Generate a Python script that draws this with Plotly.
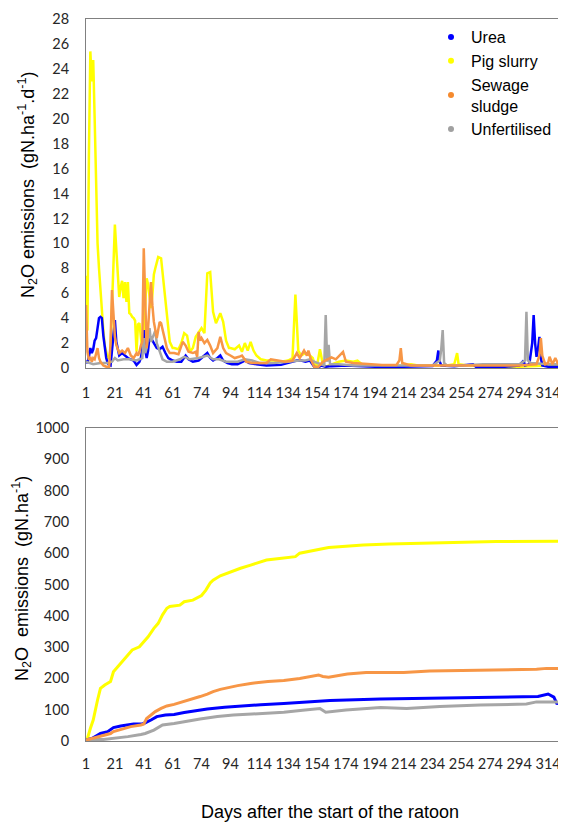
import plotly.graph_objects as go

# ---------------- data ----------------
SERIES_NAMES = ["Urea", "Pig slurry", "Sewage<br>sludge", "Unfertilised"]
SERIES_COLORS = ["#0000FF", "#FFFF00", "#F79646", "#A6A6A6"]
LEGEND_COLORS = ["#0000FF", "#FFFF00", "#F58A2E", "#A0A0A0"]

# x axis: sampling index (category position) and the day labels shown every 20 samples
TICK_IDX = [0, 20, 40, 60, 80, 100, 120, 140, 160, 180, 200, 220, 240, 260, 280, 300, 320]
TICK_LABELS = ["1", "21", "41", "61", "74", "94", "114", "134", "154", "174",
               "194", "214", "234", "254", "274", "294", "314"]

# ---- daily N2O emissions (gN.ha-1.d-1): sample index / value ----
urea_daily_x = [0, 1, 2, 3, 4, 5, 6, 7, 8, 9, 10, 11, 12, 13, 14, 15, 16, 17, 18, 19, 20, 21, 22, 23, 25, 27,
                29, 31, 33, 35, 37, 38, 39, 40, 41, 42, 43, 44, 45, 47, 49, 51, 53, 55, 57, 60, 63, 66, 69,
                71, 74, 78, 81, 84, 86, 88, 91, 93, 95, 98, 101, 105, 110, 113, 118, 125, 135, 143, 146,
                149, 152, 155, 158, 160, 163, 166, 170, 180, 190, 200, 220, 240, 243, 244, 245, 246, 255,
                268, 270, 290, 300, 303, 304, 307, 309, 310, 311, 312, 313, 314, 315, 316, 320, 332]
urea_daily_y = [0.6, 0.4, 0.9, 1.6, 1.2, 1.5, 2.2, 2.4, 3.2, 4.0, 4.1, 4.0, 2.6, 1.5, 0.8, 0.4, 0.25, 0.2,
                1.5, 3.0, 3.85, 2.1, 1.4, 1.0, 1.2, 1.0, 0.8, 0.7, 0.6, 0.25, 0.5, 0.8, 1.5, 3.05, 1.5, 0.8,
                1.4, 2.6, 2.4, 2.1, 1.6, 1.5, 1.7, 1.2, 0.8, 0.6, 0.5, 0.5, 1.0, 0.7, 0.5, 0.6, 0.9, 1.2,
                0.8, 0.6, 0.8, 1.0, 0.6, 0.4, 0.3, 0.3, 0.6, 0.4, 0.3, 0.2, 0.25, 0.5, 0.6, 0.6, 0.5, 0.6,
                0.1, 0.0, 0.2, 0.1, 0.15, 0.2, 0.15, 0.1, 0.1, 0.15, 0.6, 1.4, 0.5, 0.2, 0.15, 0.3, 0.1,
                0.1, 0.2, 0.6, 0.2, 0.3, 2.0, 4.25, 2.0, 0.9, 1.5, 2.5, 0.8, 0.2, 0.1, 0.1]

pig_daily_x = [0, 1, 2, 3, 4, 5, 6, 7, 8, 9, 10, 11, 12, 13, 14, 15, 16, 17, 18, 19, 20, 21, 22, 23, 24, 25,
               26, 27, 28, 29, 30, 31, 32, 33, 34, 35, 36, 37, 38, 39, 40, 41, 42, 43, 44, 45, 46, 47, 48,
               50, 52, 54, 56, 58, 60, 61, 64, 66, 68, 70, 72, 74, 76, 78, 80, 82, 84, 86, 88, 90, 93, 95,
               97, 99, 100, 103, 106, 108, 110, 112, 114, 116, 118, 121, 125, 130, 135, 140, 143, 145, 146,
               147, 149, 152, 155, 157, 159, 160, 162, 163, 164, 166, 170, 175, 180, 185, 188, 192, 200,
               210, 220, 225, 230, 240, 250, 255, 257, 258, 265, 280, 300, 320, 332]
pig_daily_y = [7.4, 3.0, 17.0, 25.4, 23.0, 24.7, 20.0, 14.0, 10.0, 8.0, 6.0, 4.5, 3.0, 1.8, 1.2, 0.8, 0.8,
               1.5, 5.0, 9.0, 11.5, 9.5, 7.0, 5.7, 6.5, 7.0, 5.6, 6.9, 5.3, 6.9, 4.4, 4.3, 4.1, 4.0, 3.8,
               1.3, 3.5, 3.6, 2.5, 1.3, 3.0, 5.5, 7.2, 6.7, 5.6, 4.8, 5.9, 7.5, 8.0, 8.9, 8.8, 6.4, 4.0,
               2.1, 1.6, 1.6, 1.5, 2.0, 2.8, 2.6, 1.3, 1.6, 2.5, 2.9, 3.2, 2.8, 7.6, 7.7, 4.5, 3.6, 4.4,
               3.7, 2.2, 1.6, 1.6, 1.5, 1.8, 1.3, 2.0, 1.4, 2.1, 1.4, 1.0, 0.7, 0.6, 0.6, 0.5, 0.6, 0.8,
               5.9, 3.0, 1.4, 1.0, 1.2, 1.0, 0.8, 0.1, 0.2, 1.5, 1.0, 0.3, 0.1, 0.3, 0.5, 0.6, 0.5, 0.6,
               0.2, 0.2, 0.15, 0.2, 0.3, 0.2, 0.2, 0.2, 0.3, 1.2, 0.3, 0.2, 0.15, 0.1, 0.2, 0.2]

sludge_daily_x = [0, 1, 2, 3, 4, 5, 6, 8, 9, 10, 12, 14, 16, 17, 18, 19, 20, 21, 23, 25, 27, 29, 31, 33,
                  35, 36, 37, 38, 39, 40, 41, 42, 43, 45, 46, 47, 49, 51, 52, 54, 56, 58, 61, 64, 67, 69,
                  71, 74, 76, 77, 78, 79, 80, 82, 84, 86, 88, 91, 93, 95, 97, 100, 103, 106, 108, 111,
                  115, 120, 125, 128, 132, 138, 143, 146, 148, 151, 153, 154, 156, 158, 161, 164, 170,
                  173, 178, 180, 185, 195, 205, 215, 217, 218, 219, 225, 240, 260, 280, 300, 312, 314,
                  315, 316, 318, 320, 321, 323, 325, 327, 328, 330, 332]
sludge_daily_y = [5.05, 1.3, 0.65, 0.9, 0.5, 0.8, 0.7, 1.6, 0.8, 0.5, 0.2, 0.1, 0.1, 2.0, 6.25, 4.25, 2.5,
                  1.85, 1.2, 1.4, 1.2, 1.6, 1.0, 0.8, 1.2, 1.0, 1.3, 1.8, 2.1, 9.6, 5.05, 1.6, 3.2, 6.9,
                  5.0, 3.7, 2.4, 3.7, 3.6, 2.65, 1.6, 1.2, 1.2, 1.1, 2.1, 1.8, 1.3, 1.2, 1.3, 0.9, 2.9,
                  2.2, 2.4, 2.0, 2.25, 1.8, 1.2, 1.6, 2.5, 1.6, 1.2, 1.0, 0.8, 0.9, 1.0, 0.5, 0.4, 0.4,
                  0.4, 0.7, 0.6, 0.5, 0.6, 1.2, 0.8, 1.4, 1.0, 1.4, 0.6, 0.1, 0.1, 0.5, 0.85, 0.7, 1.3,
                  0.5, 0.4, 0.3, 0.25, 0.25, 0.6, 1.6, 0.4, 0.2, 0.2, 0.15, 0.15, 0.2, 0.3, 1.0, 2.4, 1.0,
                  0.3, 0.4, 0.9, 0.3, 0.8, 0.3, 0.7, 0.2, 0.85]

unfert_daily_x = [0, 5, 10, 15, 18, 20, 22, 26, 30, 35, 39, 40, 41, 42, 43, 44, 45, 46, 48, 49, 51, 53,
                  56, 60, 65, 68, 72, 78, 84, 88, 92, 97, 100, 105, 110, 115, 120, 130, 140, 145, 148,
                  152, 155, 158, 162, 165, 166, 167, 168, 169, 175, 185, 200, 220, 240, 245, 246, 247,
                  248, 250, 260, 275, 290, 300, 304, 305, 306, 308, 320, 332]
unfert_daily_y = [0.5, 0.3, 0.4, 0.4, 0.5, 0.8, 0.6, 0.7, 0.7, 0.6, 0.8, 2.4, 1.2, 1.6, 2.5, 3.2, 2.1, 2.4,
                  3.0, 2.0, 1.3, 0.7, 0.5, 0.5, 0.7, 0.9, 0.7, 0.8, 1.0, 0.7, 0.7, 0.5, 0.5, 0.5, 0.7,
                  0.6, 0.4, 0.4, 0.5, 0.6, 0.6, 0.6, 0.7, 0.5, 0.3, 0.2, 4.25, 0.5, 1.85, 0.3, 0.3, 0.2,
                  0.2, 0.2, 0.2, 0.6, 1.5, 3.05, 0.4, 0.2, 0.2, 0.3, 0.3, 0.3, 0.6, 4.5, 0.6, 0.4, 0.3,
                  0.3]

# ---- cumulative N2O emissions (gN.ha-1): sample index / value ----
urea_cum_x = [0, 4, 7, 10, 15, 19, 24, 29, 33, 38, 40, 45, 49, 55, 61, 68, 75, 84, 96, 107, 121, 137,
              150, 169, 204, 241, 273, 308, 313, 320, 324, 326, 332]
urea_cum_y = [3, 8, 16, 24, 30, 43, 48, 51, 54, 54, 56, 67, 78, 83, 85, 91, 96, 102, 108, 112, 116, 120,
              124, 129, 134, 136, 140, 140, 142, 150, 140, 120, 118]

pig_cum_x = [0, 1, 3, 5, 8, 10, 13, 17, 19, 24, 29, 32, 37, 40, 43, 47, 50, 53, 56, 58, 65, 68, 74, 80,
             83, 86, 88, 93, 100, 107, 114, 120, 125, 134, 141, 145, 148, 157, 168, 180, 192, 210, 227,
             261, 284, 332]
pig_cum_y = [3, 8, 40, 67, 131, 168, 179, 190, 221, 248, 275, 291, 301, 317, 333, 360, 376, 403, 424,
             430, 434, 445, 450, 465, 482, 505, 514, 528, 541, 552, 562, 572, 578, 583, 586, 589, 600,
             608, 618, 622, 626, 629, 631, 634, 637, 638]

sludge_cum_x = [0, 4, 8, 17, 19, 24, 31, 38, 40, 42, 45, 48, 52, 56, 61, 65, 70, 75, 79, 84, 88, 93, 98,
                105, 114, 126, 137, 148, 161, 164, 168, 174, 181, 194, 220, 238, 273, 312, 319, 332]
sludge_cum_y = [3, 8, 14, 24, 30, 37, 46, 51, 54, 72, 83, 94, 104, 112, 117, 122, 129, 135, 142, 150,
                158, 165, 171, 177, 184, 190, 193, 200, 211, 206, 204, 208, 214, 219, 219, 224, 227, 229,
                232, 232]

unfert_cum_x = [0, 2, 12, 19, 29, 38, 41, 47, 53, 61, 68, 79, 91, 102, 115, 137, 150, 162, 166, 180, 204,
                222, 245, 273, 305, 312, 332]
unfert_cum_y = [2, 5, 5, 8, 14, 21, 24, 35, 51, 56, 62, 70, 78, 83, 86, 92, 98, 104, 92, 99, 107, 104,
                110, 115, 118, 125, 125]

# ---------------- figure ----------------
# The page body adds an 8 px margin, so the figure is drawn 8 px smaller and all
# reference pixel positions are shifted by that offset.
OFF = 8
W, H = 566 - OFF, 822 - OFF
ML, MR, MT, MB = 86 - OFF, 0, 19 - OFF, 81
PH = H - MT - MB
PW = W - ML - MR
X_RANGE = [0, 332.4]

def py2paper(py):      # py = pixel row in the reference screenshot
    return (822 - MB - py) / PH

def px2paper(px):      # px = pixel column in the reference screenshot
    return (px - 86) / PW

fig = go.Figure()

daily = {
    "Urea": (urea_daily_x, urea_daily_y),
    "Pig slurry": (pig_daily_x, pig_daily_y),
    "Sewage sludge": (sludge_daily_x, sludge_daily_y),
    "Unfertilised": (unfert_daily_x, unfert_daily_y),
}
cumul = {
    "Urea": (urea_cum_x, urea_cum_y),
    "Pig slurry": (pig_cum_x, pig_cum_y),
    "Sewage sludge": (sludge_cum_x, sludge_cum_y),
    "Unfertilised": (unfert_cum_x, unfert_cum_y),
}
color_of = {"Urea": SERIES_COLORS[0], "Pig slurry": SERIES_COLORS[1],
            "Sewage sludge": SERIES_COLORS[2], "Unfertilised": SERIES_COLORS[3]}

draw_order = ["Pig slurry", "Urea", "Unfertilised", "Sewage sludge"]
for name in draw_order:
    xs, ys = daily[name]
    fig.add_trace(go.Scatter(x=xs, y=ys, mode="lines", line=dict(color=color_of[name], width=2.5),
                             showlegend=False, xaxis="x", yaxis="y", hoverinfo="skip"))
for name in draw_order:
    xs, ys = cumul[name]
    fig.add_trace(go.Scatter(x=xs, y=ys, mode="lines", line=dict(color=color_of[name], width=3),
                             showlegend=False, xaxis="x2", yaxis="y2", hoverinfo="skip"))

# legend entries (dot markers, as in the original)
for nm, col in zip(SERIES_NAMES, LEGEND_COLORS):
    fig.add_trace(go.Scatter(x=[None], y=[None], mode="markers", name=nm,
                             marker=dict(color=col, size=6), xaxis="x", yaxis="y"))

AXCOL = "#808080"
TICKFONT = dict(family="Lato, Open Sans, sans-serif", size=14.5, color="#262626")
TITLEFONT = dict(family="Liberation Sans, Arial, sans-serif", size=18, color="#000000")

common_x = dict(range=X_RANGE, tickmode="array", tickvals=TICK_IDX, ticktext=TICK_LABELS,
                showline=True, linecolor=AXCOL, linewidth=1, mirror=True, showgrid=False,
                zeroline=False, ticks="", tickfont=TICKFONT, tickangle=0)
common_y = dict(showline=True, linecolor=AXCOL, linewidth=1, showgrid=False, zeroline=False,
                ticks="", tickfont=TICKFONT, ticklabelstandoff=13)

fig.update_layout(
    width=W, height=H,
    margin=dict(l=ML, r=MR, t=MT, b=MB),
    paper_bgcolor="white", plot_bgcolor="white",
    xaxis=dict(domain=[0, 1], anchor="y", ticklabelstandoff=12, **common_x),
    yaxis=dict(domain=[py2paper(368), 1], anchor="x", range=[0, 28], tick0=0, dtick=2, **common_y),
    xaxis2=dict(domain=[0, 1], anchor="y2", ticklabelstandoff=10, **common_x),
    yaxis2=dict(domain=[0, py2paper(428)], anchor="x2", range=[0, 1000], tick0=0, dtick=100, **common_y),
    showlegend=True,
    legend=dict(x=px2paper(431), y=py2paper(20), xanchor="left", yanchor="top",
                font=dict(family="Liberation Sans, Arial, sans-serif", size=16, color="#000000"),
                bgcolor="rgba(0,0,0,0)"),
    annotations=[
        dict(text="N<sub>2</sub>O emissions  (gN.ha<sup>-1</sup>.d<sup>-1</sup>)", textangle=-90,
             xref="paper", yref="paper", x=px2paper(27), y=py2paper(185),
             xanchor="center", yanchor="middle", showarrow=False, font=TITLEFONT),
        dict(text="N<sub>2</sub>O  emissions  (gN.ha<sup>-1</sup>)", textangle=-90,
             xref="paper", yref="paper", x=px2paper(21), y=py2paper(579),
             xanchor="center", yanchor="middle", showarrow=False, font=TITLEFONT),
        dict(text="Days after the start of the ratoon",
             xref="paper", yref="paper", x=px2paper(330), y=py2paper(812),
             xanchor="center", yanchor="middle", showarrow=False, font=TITLEFONT),
    ],
)

fig.write_html("out.html")
